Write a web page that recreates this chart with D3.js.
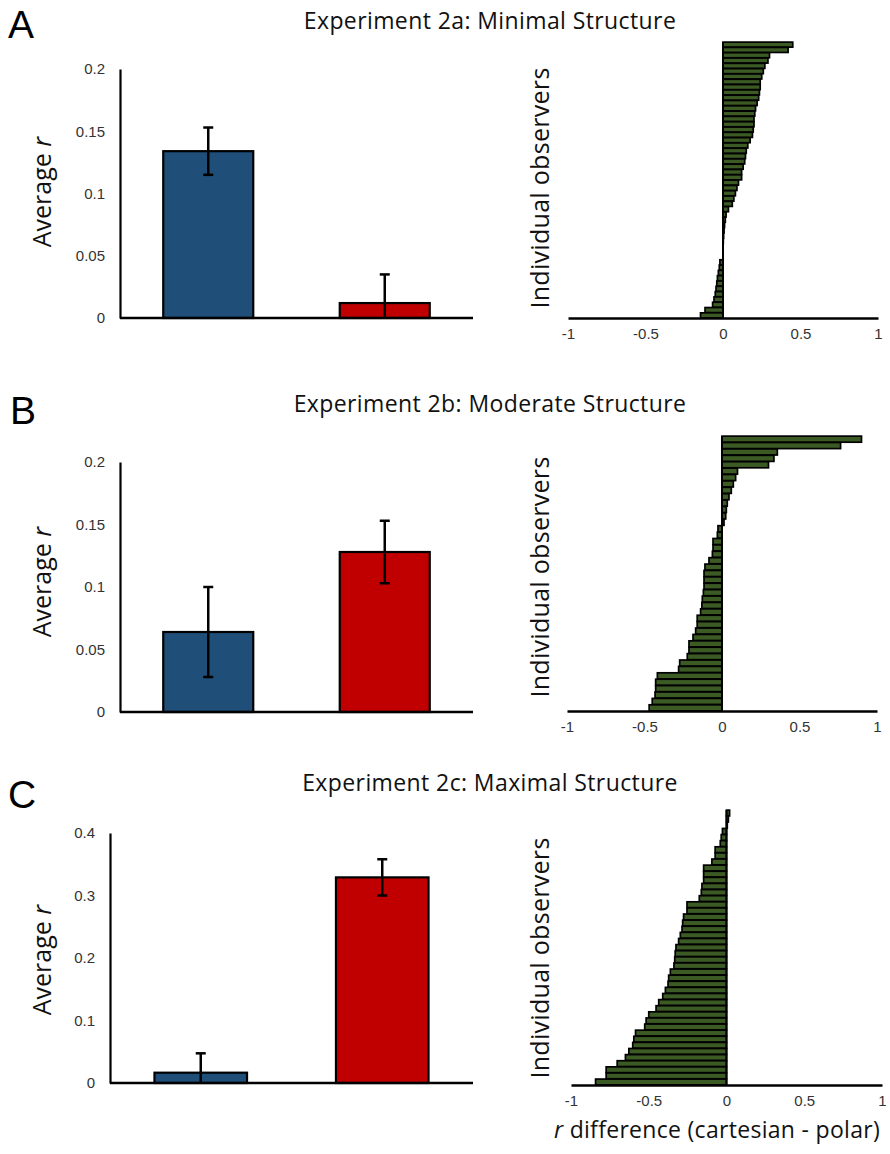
<!DOCTYPE html>
<html>
<head>
<meta charset="utf-8">
<script src="https://cdn.jsdelivr.net/npm/d3@7"></script>
<style>
  html, body { margin: 0; padding: 0; background: #fff; }
  svg { display: block; }
</style>
</head>
<body>
<svg id="chart" width="890" height="1154"></svg>
<script>
// ---------------- DATA ----------------
const panelLetters = ["A", "B", "C"];
const panelTitles = [
  "Experiment 2a: Minimal Structure",
  "Experiment 2b: Moderate Structure",
  "Experiment 2c: Maximal Structure"
];
const conditions = ["cartesian", "polar"];
const conditionColors = ["#1f4e79", "#c00000"];

const meansA = [0.134, 0.012];
const errsA  = [0.019, 0.023];
const meansB = [0.064, 0.128];
const errsB  = [0.036, 0.025];
const meansC = [0.0165, 0.329];
const errsC  = [0.031, 0.029];

const yTicksAB = [0, 0.05, 0.1, 0.15, 0.2];
const yTicksC  = [0, 0.1, 0.2, 0.3, 0.4];
const xTicksDiff = [-1, -0.5, 0, 0.5, 1];

// individual observers: r difference (cartesian - polar), sorted top to bottom
const diffsA = [0.45, 0.42, 0.30, 0.29, 0.27, 0.26, 0.25, 0.24, 0.24, 0.235,
  0.23, 0.22, 0.21, 0.205, 0.20, 0.20, 0.195, 0.19, 0.175, 0.16,
  0.15, 0.145, 0.14, 0.13, 0.12, 0.12, 0.10, 0.09, 0.08, 0.07,
  0.06, 0.035, 0.02, 0.015, 0.01, 0.007, 0.004, 0.002, 0, 0,
  0, -0.02, -0.024, -0.03, -0.036, -0.04, -0.045, -0.05, -0.058, -0.067,
  -0.116, -0.145];
const diffsB = [0.90, 0.765, 0.357, 0.335, 0.30, 0.10, 0.088, 0.073, 0.06, 0.045,
  0.034, 0.028, 0.024, 0.013, -0.026, -0.03, -0.058, -0.058, -0.062, -0.084,
  -0.11, -0.116, -0.116, -0.116, -0.12, -0.127, -0.13, -0.138, -0.16, -0.16,
  -0.17, -0.187, -0.213, -0.213, -0.224, -0.273, -0.28, -0.417, -0.428, -0.428,
  -0.432, -0.45, -0.47];
const diffsC = [0.02, 0.012, 0.005, -0.026, -0.034, -0.04, -0.073, -0.073, -0.094, -0.147,
  -0.147, -0.147, -0.158, -0.162, -0.175, -0.254, -0.254, -0.276, -0.282, -0.286,
  -0.297, -0.308, -0.325, -0.33, -0.333, -0.338, -0.361, -0.372, -0.376, -0.393,
  -0.41, -0.436, -0.453, -0.5, -0.517, -0.526, -0.585, -0.596, -0.603, -0.628,
  -0.65, -0.703, -0.774, -0.774, -0.842];

const panelMeans = [meansA, meansB, meansC];
const panelErrs = [errsA, errsB, errsC];
const panelYTicks = [yTicksAB, yTicksAB, yTicksC];
const panelDiffs = [diffsA, diffsB, diffsC];

// ---------------- LAYOUT ----------------
const layout = [
  { letter: [8, 38], title: [490, 29],
    bar: { x0: 120, x1: 473, yTop: 69, yBot: 318 }, ylab: [51, 192],
    diff: { x0: 568, x1: 878, yTop: 42, yBot: 318 }, olab: [549, 188] },
  { letter: [10, 424], title: [490, 412],
    bar: { x0: 120, x1: 473, yTop: 462, yBot: 712 }, ylab: [51, 582],
    diff: { x0: 567, x1: 877, yTop: 436, yBot: 711 }, olab: [549, 577] },
  { letter: [8, 808], title: [490, 791],
    bar: { x0: 110, x1: 473, yTop: 833, yBot: 1083 }, ylab: [51, 960],
    diff: { x0: 571, x1: 882, yTop: 810, yBot: 1085 }, olab: [549, 958] }
];

const svg = d3.select("#chart");
const titleFont = "'Open Sans', 'Noto Sans', sans-serif";
const tickFont = "'Liberation Sans', Arial, sans-serif";
const green = "#3b5a24";

panelLetters.forEach((letter, i) => {
  const L = layout[i];

  // Panel letter
  svg.append("text")
    .attr("x", L.letter[0]).attr("y", L.letter[1])
    .attr("font-family", tickFont).attr("font-size", 39)
    .attr("fill", "#000").text(letter);

  // Title
  svg.append("text")
    .attr("x", L.title[0]).attr("y", L.title[1])
    .attr("text-anchor", "middle")
    .attr("font-family", titleFont).attr("font-size", 23)
    .attr("letter-spacing", 0.4)
    .attr("fill", "#111").text(panelTitles[i]);

  // ---------- Bar chart ----------
  const yTicks = panelYTicks[i];
  const x = d3.scaleBand().domain(conditions)
    .range([L.bar.x0, L.bar.x1]).paddingInner(0.49).paddingOuter(0.245);
  const y = d3.scaleLinear().domain([0, d3.max(yTicks)])
    .range([L.bar.yBot, L.bar.yTop]).clamp(true);

  const g = svg.append("g");
  const data = conditions.map((c, k) => ({ c, m: panelMeans[i][k], e: panelErrs[i][k], col: conditionColors[k] }));

  g.selectAll("rect.bar").data(data).join("rect")
    .attr("class", "bar")
    .attr("x", d => x(d.c))
    .attr("width", x.bandwidth())
    .attr("y", d => y(d.m))
    .attr("height", d => y(0) - y(d.m))
    .attr("fill", d => d.col)
    .attr("stroke", "#000").attr("stroke-width", 2.2);

  // error bars
  data.forEach(d => {
    const cx = x(d.c) + x.bandwidth() / 2;
    const lo = d.m - d.e, hi = d.m + d.e;
    g.append("line").attr("x1", cx).attr("x2", cx)
      .attr("y1", y(hi)).attr("y2", y(lo))
      .attr("stroke", "#000").attr("stroke-width", 2.5);
    g.append("line").attr("x1", cx - 5).attr("x2", cx + 5)
      .attr("y1", y(hi)).attr("y2", y(hi))
      .attr("stroke", "#000").attr("stroke-width", 2.5);
    if (lo > 0) {
      g.append("line").attr("x1", cx - 5).attr("x2", cx + 5)
        .attr("y1", y(lo)).attr("y2", y(lo))
        .attr("stroke", "#000").attr("stroke-width", 2.5);
    }
  });

  // y axis
  const yAxis = g.append("g")
    .attr("transform", `translate(${L.bar.x0},0)`)
    .call(d3.axisLeft(y).tickValues(yTicks).tickSize(0).tickPadding(15).tickFormat(d => String(d)));
  yAxis.select(".domain").attr("stroke", "#000").attr("stroke-width", 2.2);
  yAxis.selectAll("text").attr("font-family", tickFont).attr("font-size", 15).attr("fill", "#333");

  // x axis line
  g.append("line")
    .attr("x1", L.bar.x0).attr("x2", L.bar.x1)
    .attr("y1", y(0)).attr("y2", y(0))
    .attr("stroke", "#000").attr("stroke-width", 2.5);

  // y label
  const yl = svg.append("text")
    .attr("transform", `translate(${L.ylab[0]},${L.ylab[1]}) rotate(-90)`)
    .attr("text-anchor", "middle")
    .attr("font-family", titleFont).attr("font-size", 25).attr("fill", "#111");
  yl.append("tspan").text("Average ");
  yl.append("tspan").attr("font-style", "italic").text("r");

  // ---------- Individual observers ----------
  const diffs = panelDiffs[i];
  const xd = d3.scaleLinear().domain([-1, 1]).range([L.diff.x0, L.diff.x1]);
  const yd = d3.scaleBand().domain(d3.range(diffs.length))
    .range([L.diff.yTop, L.diff.yBot]).paddingInner(0.05).paddingOuter(0.02);

  const gd = svg.append("g");
  gd.selectAll("rect").data(diffs).join("rect")
    .attr("x", d => xd(Math.min(0, d)))
    .attr("width", d => Math.abs(xd(d) - xd(0)))
    .attr("y", (d, k) => yd(k))
    .attr("height", yd.bandwidth())
    .attr("fill", green)
    .attr("stroke", "#000").attr("stroke-width", 1.7);

  // vertical zero line
  gd.append("line")
    .attr("x1", xd(0)).attr("x2", xd(0))
    .attr("y1", L.diff.yTop).attr("y2", L.diff.yBot)
    .attr("stroke", "#000").attr("stroke-width", 2);

  const xAxis = gd.append("g")
    .attr("transform", `translate(0,${L.diff.yBot})`)
    .call(d3.axisBottom(xd).tickValues(xTicksDiff).tickSize(0).tickPadding(10).tickFormat(d => String(d)));
  xAxis.select(".domain").attr("stroke", "#000").attr("stroke-width", 2.5);
  xAxis.selectAll("text").attr("font-family", tickFont).attr("font-size", 15).attr("fill", "#333");

  svg.append("text")
    .attr("transform", `translate(${L.olab[0]},${L.olab[1]}) rotate(-90)`)
    .attr("text-anchor", "middle")
    .attr("font-family", titleFont).attr("font-size", 25).attr("letter-spacing", 0.3)
    .attr("fill", "#111")
    .text("Individual observers");
});

// bottom x label
const xl = svg.append("text")
  .attr("x", 717).attr("y", 1138)
  .attr("text-anchor", "middle")
  .attr("font-family", titleFont).attr("font-size", 23).attr("letter-spacing", 0.3)
  .attr("fill", "#111");
xl.append("tspan").attr("font-style", "italic").text("r");
xl.append("tspan").text(" difference (cartesian - polar)");
</script>
</body>
</html>
